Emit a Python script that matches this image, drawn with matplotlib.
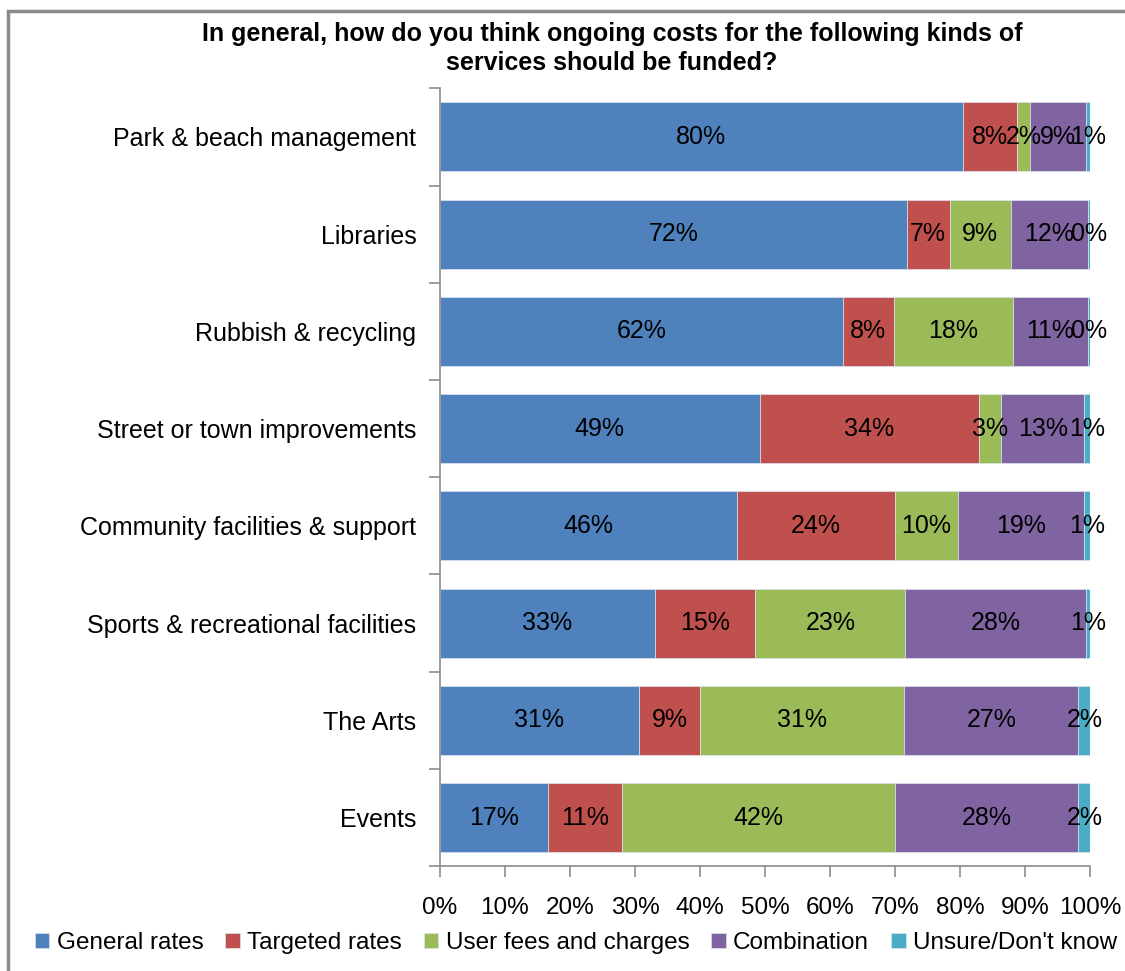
import numpy as np
import matplotlib
matplotlib.use("Agg")
import matplotlib.pyplot as plt
from matplotlib.patches import Rectangle
from matplotlib.ticker import FixedLocator, PercentFormatter

plt.rcParams['font.family'] = ['Liberation Sans', 'DejaVu Sans']

# survey services, top to bottom
services = [
    "Park & beach management",
    "Libraries",
    "Rubbish & recycling",
    "Street or town improvements",
    "Community facilities & support",
    "Sports & recreational facilities",
    "The Arts",
    "Events",
]

# share of respondents (%) for each funding option
general_rates = [80.4, 71.8, 62.0, 49.2, 45.7, 33.1, 30.6, 16.6]
targeted_rates = [8.3, 6.6, 7.8, 33.7, 24.3, 15.4, 9.4, 11.4]
user_fees = [2.1, 9.4, 18.4, 3.4, 9.7, 23.1, 31.4, 42.0]
combination = [8.6, 11.8, 11.4, 12.8, 19.4, 27.7, 26.8, 28.2]
unsure = [0.6, 0.4, 0.4, 0.9, 0.9, 0.7, 1.8, 1.8]

series_names = ["General rates", "Targeted rates", "User fees and charges",
                "Combination", "Unsure/Don't know"]
series_colors = ["#4F81BD", "#C0504D", "#9BBB59", "#8064A2", "#4BACC6"]

fig = plt.figure(figsize=(11.25, 9.71), dpi=100)
ax = fig.add_axes([0.391, 0.108, 0.578, 0.801])

y = np.arange(len(services))
left = np.zeros(len(services))
for vals, name, col in zip([general_rates, targeted_rates, user_fees, combination, unsure],
                           series_names, series_colors):
    vals = np.array(vals)
    bars = ax.barh(y, vals, left=left, height=0.71, color=col, label=name,
                   edgecolor='#dbe4ef', linewidth=0.5)
    ax.bar_label(bars, labels=['%.0f%%' % v for v in vals], label_type='center',
                 fontsize=18, color='black')
    left += vals

ax.set_xlim(0, 100)
ax.set_ylim(len(services) - 0.5, -0.5)
ax.xaxis.set_major_locator(FixedLocator(np.arange(0, 101, 10)))
ax.xaxis.set_major_formatter(PercentFormatter(decimals=0))
ax.set_yticks(y)
ax.set_yticklabels(services)
ax.yaxis.set_minor_locator(FixedLocator(np.arange(-0.5, len(services), 1)))

for side in ['top', 'right']:
    ax.spines[side].set_visible(False)
for side in ['left', 'bottom']:
    ax.spines[side].set_color('#8c8c8c')
    ax.spines[side].set_linewidth(1.2)

ax.tick_params(axis='y', which='major', length=0, pad=17, labelsize=18)
ax.tick_params(axis='y', which='minor', length=8, color='#8c8c8c', width=1.2)
ax.tick_params(axis='x', which='major', length=8, color='#8c8c8c', width=1.2,
               pad=14, labelsize=17.5)

fig.text(0.544, 0.977, "In general, how do you think ongoing costs for the following kinds of\n"
         "services should be funded?", ha='center', va='top', fontsize=18,
         fontweight='bold', linespacing=1.25)

fig.legend(loc='center', bbox_to_anchor=(0.512, 0.029), ncol=5, frameon=False,
           fontsize=17.5, handlelength=0.6, handleheight=0.6, handletextpad=0.3,
           columnspacing=0.9, borderaxespad=0)

# outer chart border
fig.patches.append(Rectangle((8 / 1125, -0.05), 1.1, 1 - 11 / 971 + 0.05,
                             transform=fig.transFigure, fill=False,
                             edgecolor='#8c8c8c', linewidth=2.5))

fig.savefig("out.png", dpi=100)
